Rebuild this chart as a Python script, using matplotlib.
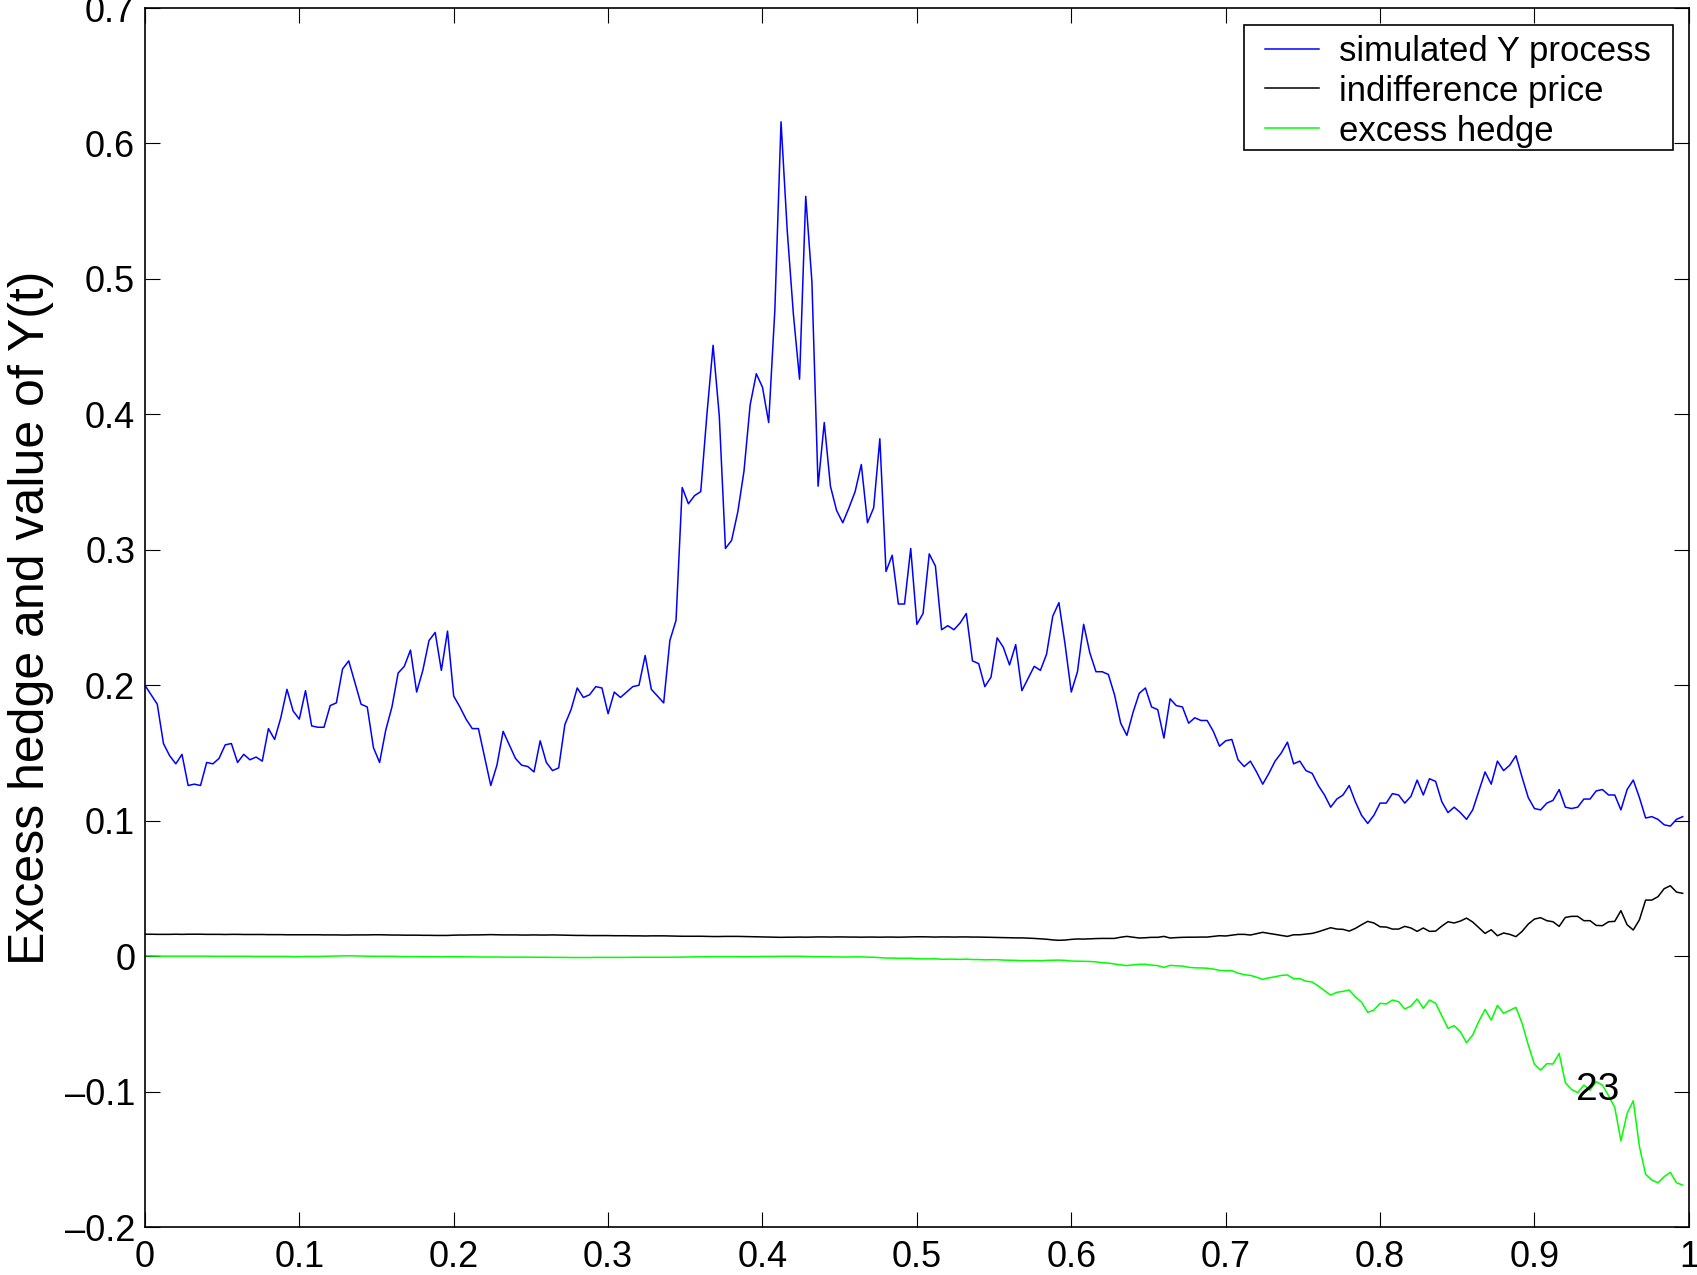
import numpy as np
import matplotlib
matplotlib.use("Agg")
import matplotlib.pyplot as plt
from matplotlib.ticker import FuncFormatter
from matplotlib.path import Path

plt.rcParams['font.family'] = ['Liberation Sans', 'DejaVu Sans']

# time grid: 250 steps on [0, 1)
n_steps = 250

# simulated Y process
y_process = [
    0.200, 0.193, 0.186, 0.157, 0.148, 0.142, 0.149, 0.126, 0.127, 0.126,
    0.143, 0.142, 0.146, 0.156, 0.157, 0.143, 0.149, 0.145, 0.147, 0.144,
    0.168, 0.160, 0.176, 0.197, 0.181, 0.175, 0.196, 0.170, 0.169, 0.169,
    0.185, 0.187, 0.212, 0.218, 0.202, 0.186, 0.184, 0.154, 0.143, 0.167,
    0.184, 0.209, 0.214, 0.226, 0.195, 0.211, 0.233, 0.239, 0.211, 0.240,
    0.192, 0.184, 0.175, 0.168, 0.168, 0.147, 0.126, 0.141, 0.166, 0.156,
    0.146, 0.141, 0.140, 0.136, 0.159, 0.143, 0.137, 0.139, 0.171, 0.182,
    0.198, 0.191, 0.193, 0.199, 0.198, 0.179, 0.195, 0.191, 0.195, 0.199,
    0.200, 0.222, 0.197, 0.192, 0.187, 0.233, 0.248, 0.346, 0.334, 0.340,
    0.343, 0.400, 0.451, 0.399, 0.301, 0.307, 0.328, 0.358, 0.407, 0.430,
    0.420, 0.394, 0.477, 0.616, 0.536, 0.474, 0.426, 0.561, 0.498, 0.347,
    0.394, 0.347, 0.329, 0.320, 0.331, 0.343, 0.363, 0.320, 0.331, 0.382,
    0.284, 0.296, 0.260, 0.260, 0.301, 0.245, 0.253, 0.297, 0.288, 0.241,
    0.244, 0.241, 0.246, 0.253, 0.218, 0.216, 0.199, 0.206, 0.235, 0.228,
    0.215, 0.230, 0.196, 0.205, 0.214, 0.211, 0.223, 0.251, 0.261, 0.230,
    0.195, 0.210, 0.245, 0.224, 0.210, 0.210, 0.208, 0.193, 0.172, 0.163,
    0.180, 0.194, 0.198, 0.184, 0.182, 0.161, 0.190, 0.185, 0.184, 0.172,
    0.176, 0.174, 0.174, 0.166, 0.155, 0.159, 0.160, 0.145, 0.140, 0.144,
    0.136, 0.127, 0.135, 0.144, 0.150, 0.158, 0.142, 0.144, 0.137, 0.135,
    0.126, 0.119, 0.110, 0.116, 0.119, 0.126, 0.114, 0.104, 0.098, 0.104,
    0.113, 0.113, 0.120, 0.119, 0.113, 0.118, 0.130, 0.119, 0.131, 0.129,
    0.114, 0.106, 0.110, 0.106, 0.101, 0.108, 0.122, 0.136, 0.127, 0.144,
    0.137, 0.141, 0.148, 0.132, 0.117, 0.109, 0.108, 0.113, 0.115, 0.123,
    0.110, 0.109, 0.110, 0.116, 0.116, 0.122, 0.123, 0.119, 0.119, 0.108,
    0.123, 0.130, 0.117, 0.102, 0.103, 0.101, 0.097, 0.096, 0.101, 0.103,
]

# indifference price
indiff_price = [
    0.0162, 0.0162, 0.0161, 0.0161, 0.0161, 0.0162, 0.0161, 0.0162, 0.0162, 0.0162,
    0.0161, 0.0161, 0.0161, 0.0160, 0.0161, 0.0161, 0.0160, 0.0160, 0.0160, 0.0160,
    0.0159, 0.0159, 0.0159, 0.0158, 0.0158, 0.0158, 0.0158, 0.0158, 0.0158, 0.0157,
    0.0157, 0.0157, 0.0156, 0.0156, 0.0157, 0.0157, 0.0157, 0.0158, 0.0158, 0.0157,
    0.0156, 0.0156, 0.0155, 0.0155, 0.0155, 0.0154, 0.0154, 0.0153, 0.0153, 0.0153,
    0.0155, 0.0156, 0.0156, 0.0157, 0.0157, 0.0158, 0.0159, 0.0158, 0.0157, 0.0157,
    0.0157, 0.0156, 0.0156, 0.0157, 0.0156, 0.0156, 0.0157, 0.0156, 0.0155, 0.0154,
    0.0153, 0.0153, 0.0152, 0.0152, 0.0152, 0.0152, 0.0151, 0.0151, 0.0151, 0.0150,
    0.0150, 0.0149, 0.0150, 0.0150, 0.0150, 0.0149, 0.0148, 0.0147, 0.0147, 0.0147,
    0.0147, 0.0146, 0.0145, 0.0145, 0.0146, 0.0146, 0.0146, 0.0145, 0.0144, 0.0143,
    0.0142, 0.0141, 0.0140, 0.0139, 0.0140, 0.0140, 0.0141, 0.0140, 0.0141, 0.0142,
    0.0142, 0.0141, 0.0142, 0.0142, 0.0141, 0.0141, 0.0140, 0.0141, 0.0141, 0.0140,
    0.0141, 0.0141, 0.0140, 0.0141, 0.0142, 0.0143, 0.0143, 0.0142, 0.0141, 0.0142,
    0.0142, 0.0141, 0.0142, 0.0142, 0.0141, 0.0141, 0.0140, 0.0139, 0.0138, 0.0137,
    0.0136, 0.0135, 0.0135, 0.0133, 0.0131, 0.0128, 0.0125, 0.0120, 0.0117, 0.0119,
    0.0124, 0.0127, 0.0126, 0.0128, 0.0130, 0.0131, 0.0131, 0.0131, 0.0140, 0.0146,
    0.0140, 0.0134, 0.0136, 0.0139, 0.0139, 0.0146, 0.0134, 0.0137, 0.0139, 0.0140,
    0.0140, 0.0141, 0.0141, 0.0146, 0.0151, 0.0149, 0.0155, 0.0161, 0.0161, 0.0156,
    0.0166, 0.0176, 0.0168, 0.0161, 0.0153, 0.0146, 0.0158, 0.0158, 0.0163, 0.0168,
    0.0180, 0.0195, 0.0210, 0.0200, 0.0198, 0.0185, 0.0205, 0.0232, 0.0257, 0.0245,
    0.0217, 0.0215, 0.0200, 0.0200, 0.0220, 0.0208, 0.0183, 0.0208, 0.0183, 0.0185,
    0.0222, 0.0254, 0.0245, 0.0259, 0.0281, 0.0252, 0.0210, 0.0168, 0.0195, 0.0151,
    0.0171, 0.0161, 0.0144, 0.0183, 0.0237, 0.0274, 0.0284, 0.0262, 0.0254, 0.0220,
    0.0286, 0.0294, 0.0294, 0.0262, 0.0262, 0.0227, 0.0225, 0.0254, 0.0257, 0.0336,
    0.0232, 0.0193, 0.0269, 0.0414, 0.0414, 0.0439, 0.0498, 0.0520, 0.0473, 0.0464,
]

# excess hedge
excess_hedge = [
    0.0003, 0.0002, 0.0001, 0.0000, 0.0000, 0.0000, 0.0000, 0.0000, 0.0000, 0.0000,
    0.0000, -0.0001, -0.0001, -0.0001, -0.0001, -0.0001, -0.0001, -0.0001, -0.0002, -0.0002,
    -0.0002, -0.0002, -0.0002, -0.0002, -0.0003, -0.0003, -0.0002, -0.0002, -0.0002, -0.0001,
    0.0000, 0.0001, 0.0002, 0.0003, 0.0002, 0.0001, 0.0000, -0.0001, -0.0001, -0.0001,
    -0.0001, -0.0002, -0.0003, -0.0003, -0.0003, -0.0004, -0.0004, -0.0004, -0.0005, -0.0004,
    -0.0004, -0.0004, -0.0005, -0.0005, -0.0006, -0.0006, -0.0006, -0.0006, -0.0007, -0.0007,
    -0.0007, -0.0007, -0.0007, -0.0008, -0.0008, -0.0008, -0.0009, -0.0009, -0.0009, -0.0010,
    -0.0010, -0.0010, -0.0010, -0.0009, -0.0009, -0.0009, -0.0009, -0.0009, -0.0009, -0.0008,
    -0.0008, -0.0008, -0.0008, -0.0008, -0.0008, -0.0008, -0.0007, -0.0007, -0.0006, -0.0005,
    -0.0005, -0.0004, -0.0003, -0.0003, -0.0003, -0.0003, -0.0003, -0.0004, -0.0003, -0.0003,
    -0.0002, -0.0002, -0.0002, -0.0001, -0.0001, -0.0001, -0.0001, -0.0002, -0.0003, -0.0004,
    -0.0004, -0.0005, -0.0006, -0.0006, -0.0006, -0.0005, -0.0005, -0.0007, -0.0008, -0.0011,
    -0.0014, -0.0014, -0.0016, -0.0016, -0.0015, -0.0019, -0.0020, -0.0020, -0.0019, -0.0023,
    -0.0022, -0.0022, -0.0024, -0.0022, -0.0025, -0.0025, -0.0027, -0.0026, -0.0026, -0.0029,
    -0.0030, -0.0031, -0.0033, -0.0033, -0.0032, -0.0034, -0.0031, -0.0030, -0.0029, -0.0031,
    -0.0036, -0.0037, -0.0038, -0.0039, -0.0042, -0.0048, -0.0051, -0.0058, -0.0064, -0.0070,
    -0.0064, -0.0060, -0.0060, -0.0066, -0.0070, -0.0083, -0.0068, -0.0071, -0.0073, -0.0082,
    -0.0086, -0.0087, -0.0089, -0.0095, -0.0105, -0.0107, -0.0107, -0.0125, -0.0137, -0.0142,
    -0.0155, -0.0171, -0.0160, -0.0152, -0.0142, -0.0139, -0.0166, -0.0166, -0.0184, -0.0191,
    -0.0220, -0.0255, -0.0287, -0.0267, -0.0260, -0.0250, -0.0300, -0.0340, -0.0415, -0.0398,
    -0.0348, -0.0353, -0.0324, -0.0336, -0.0390, -0.0368, -0.0316, -0.0385, -0.0324, -0.0348,
    -0.0440, -0.0533, -0.0513, -0.0558, -0.0639, -0.0582, -0.0480, -0.0393, -0.0472, -0.0363,
    -0.0422, -0.0400, -0.0378, -0.0496, -0.0656, -0.0799, -0.0841, -0.0794, -0.0796, -0.0718,
    -0.0934, -0.0984, -0.1008, -0.0952, -0.0989, -0.0927, -0.0952, -0.1030, -0.1116, -0.1363,
    -0.1161, -0.1067, -0.1407, -0.1611, -0.1653, -0.1673, -0.1628, -0.1596, -0.1673, -0.1690,
]

t = np.arange(n_steps) / n_steps

x_ticks = [0, 0.1, 0.2, 0.3, 0.4, 0.5, 0.6, 0.7, 0.8, 0.9, 1]
y_ticks = [-0.2, -0.1, 0, 0.1, 0.2, 0.3, 0.4, 0.5, 0.6, 0.7]


def matlab_fmt(v, pos):
    s = '%g' % round(v, 6)
    return s.replace('-', '\u2013')


# legend frame: extra room left and right, nudged up a little
def wide_box(x0, y0, width, height, mutation_size):
    p = 0.45 * mutation_size
    dy = 0.1 * mutation_size
    y0 = y0 + dy
    return Path([(x0 - p, y0), (x0 + width + p, y0), (x0 + width + p, y0 + height),
                 (x0 - p, y0 + height), (x0 - p, y0)], closed=True)


fig = plt.figure(figsize=(16.97, 12.75), dpi=100)
ax = fig.add_axes([0.0854, 0.0376, 0.9098, 0.9561])

lw = 1.1
ax.plot(t, y_process, color='#0000ff', lw=lw, label='simulated Y process')
ax.plot(t, indiff_price, color='black', lw=lw, label='indifference price')
ax.plot(t, excess_hedge, color='#00ff00', lw=lw, label='excess hedge')

ax.set_xlim(0, 1)
ax.set_ylim(-0.2, 0.7)
ax.set_xticks(x_ticks)
ax.set_yticks(y_ticks)
ax.xaxis.set_major_formatter(FuncFormatter(matlab_fmt))
ax.yaxis.set_major_formatter(FuncFormatter(matlab_fmt))
ax.tick_params(direction='in', length=11, width=0.8, labelsize=26,
               top=True, right=True)
ax.tick_params(axis='x', pad=9)
ax.tick_params(axis='y', pad=7)
for sp in ax.spines.values():
    sp.set_linewidth(1.2)

ax.set_ylabel('Excess hedge and value of Y(t)', fontsize=36, labelpad=8)

leg = ax.legend(loc='upper right', bbox_to_anchor=(0.9795, 0.983),
                borderaxespad=0, fontsize=25, fancybox=False, framealpha=1,
                edgecolor='black', handlelength=1.55, handletextpad=0.58,
                labelspacing=0.2, borderpad=0.17)
leg.get_frame().set_linewidth(1.2)
leg.get_frame().set_boxstyle(wide_box)

ax.text(0.941, -0.099, '23', fontsize=28, ha='center', va='center')

fig.savefig('out.png', dpi=100)
